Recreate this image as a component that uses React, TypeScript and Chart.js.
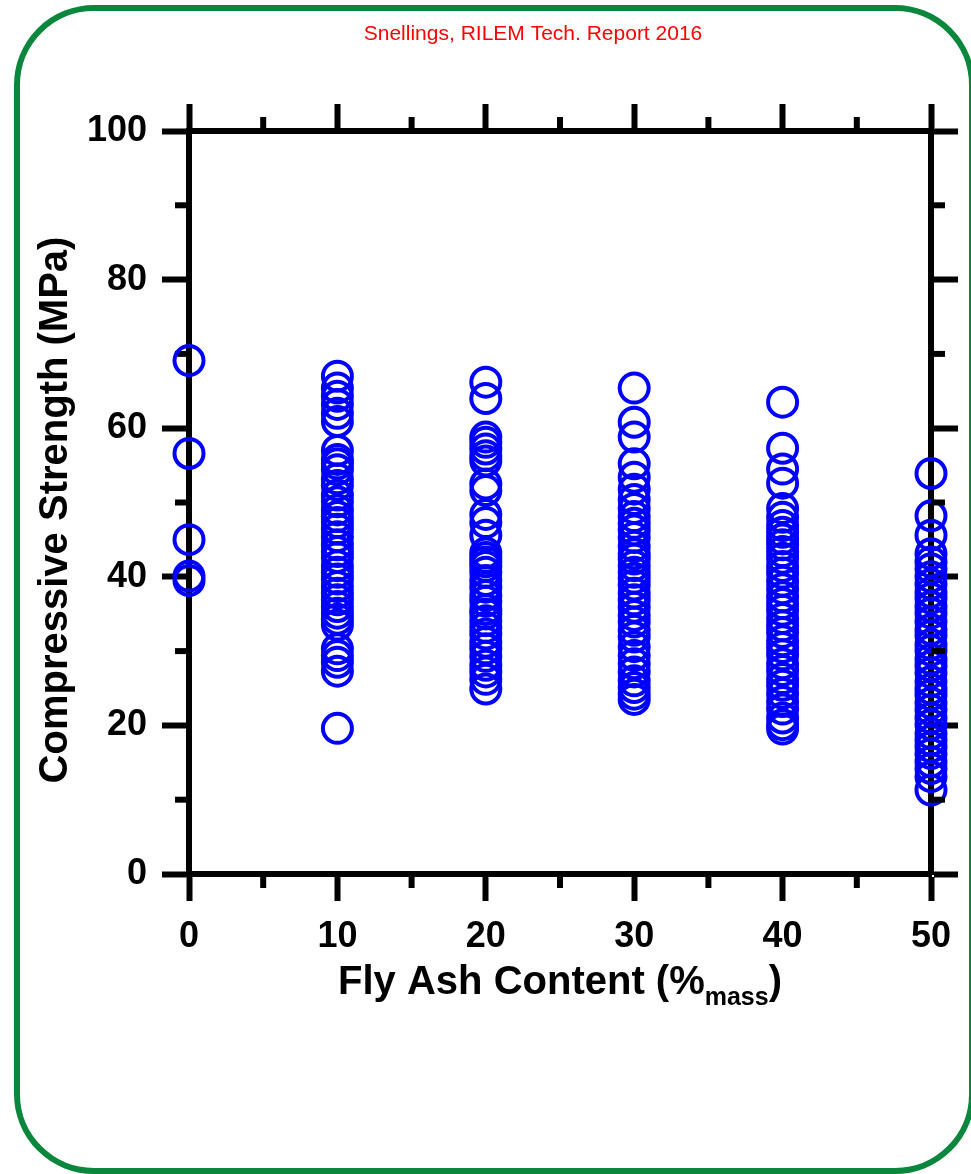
import React, { useEffect, useRef } from 'react';
import { Chart, registerables } from 'chart.js';

Chart.register(...registerables);

// ---- data ----
const flyAshLevels = [0, 10, 20, 30, 40, 50];
const strengthAt0 = [69.1, 56.6, 45.0, 40.1, 39.5];
const strengthAt10 = [67.0, 65.4, 64.3, 63.2, 62.0, 60.9, 57.0, 55.8, 55.2, 54.4, 53.2, 52.3, 51.0, 50.1, 49.0, 48.1, 47.3, 46.4, 45.4, 44.3, 43.4, 42.6, 41.5, 40.6, 39.7, 38.7, 37.8, 36.9, 36.0, 35.1, 34.3, 33.5, 30.3, 29.4, 28.5, 27.3, 19.6];
const strengthAt20 = [66.2, 64.0, 58.8, 58.1, 57.2, 56.3, 55.6, 52.5, 51.6, 48.4, 47.3, 45.6, 43.2, 42.6, 42.0, 41.4, 40.6, 39.5, 38.6, 37.5, 36.7, 35.6, 35.0, 34.1, 33.2, 32.3, 31.2, 30.3, 29.3, 28.1, 27.2, 26.2, 24.9];
const strengthAt30 = [65.4, 60.8, 58.8, 55.2, 53.4, 51.8, 50.4, 49.2, 48.1, 47.2, 46.3, 45.3, 44.1, 43.1, 42.4, 41.5, 40.6, 39.8, 38.9, 37.8, 36.9, 35.9, 34.8, 33.9, 32.8, 31.9, 30.6, 29.4, 28.3, 27.2, 26.0, 25.1, 24.2, 23.5];
const strengthAt40 = [63.5, 57.3, 54.5, 52.6, 49.2, 48.0, 46.9, 46.0, 45.1, 44.3, 43.4, 42.5, 41.4, 40.5, 39.4, 38.4, 37.3, 36.4, 35.5, 34.4, 33.4, 32.5, 31.4, 30.5, 29.5, 28.3, 27.4, 26.3, 25.4, 24.3, 23.2, 22.2, 21.0, 20.1, 19.5];
const strengthAt50 = [53.9, 48.2, 45.6, 43.1, 42.0, 41.1, 40.0, 39.0, 37.9, 37.1, 36.0, 35.1, 34.0, 32.9, 32.1, 30.9, 30.1, 28.9, 28.0, 27.1, 25.9, 24.9, 24.1, 23.0, 22.1, 21.0, 20.1, 18.9, 18.0, 17.1, 16.2, 15.1, 14.2, 13.1, 11.3];
const strengthColumns = [strengthAt0, strengthAt10, strengthAt20, strengthAt30, strengthAt40, strengthAt50];

const xMajorTicks = [0, 10, 20, 30, 40, 50];
const xMinorTicks = [5, 15, 25, 35, 45];
const yMajorTicks = [0, 20, 40, 60, 80, 100];
const yMinorTicks = [10, 30, 50, 70, 90];

const sourceNote = 'Snellings, RILEM Tech. Report 2016';
const xTitleMain = 'Fly Ash Content (%';
const xTitleSub = 'mass';
const xTitleEnd = ')';
const yTitle = 'Compressive Strength (MPa)';

const FONT = "'Liberation Sans', Arial, Helvetica, sans-serif";
const W = 971;
const H = 1174;

export default function App() {
  const canvasRef = useRef<HTMLCanvasElement | null>(null);

  useEffect(() => {
    document.body.style.overflow = 'hidden';
    const canvas = canvasRef.current;
    if (!canvas) return;

    const points: { x: number; y: number }[] = [];
    strengthColumns.forEach((col, i) => {
      col.forEach((v) => points.push({ x: flyAshLevels[i], y: v }));
    });

    const gridOpts = {
      drawOnChartArea: false,
      drawTicks: true,
      tickLength: 27,
      tickWidth: 6,
      tickColor: '#000',
      color: '#000',
    };
    const borderOpts = { display: true, width: 6, color: '#000' };
    const tickFont = { family: FONT, size: 36, weight: 'bold' as const };

    const decorations = {
      id: 'decorations',
      beforeDatasetsDraw(chart: any) {
        const ctx = chart.ctx;
        const xs = chart.scales.x;
        const ys = chart.scales.y;
        const ca = chart.chartArea;
        ctx.save();
        ctx.strokeStyle = '#000';
        ctx.lineWidth = 6;
        ctx.lineCap = 'butt';
        xMinorTicks.forEach((v) => {
          const px = xs.getPixelForValue(v);
          ctx.beginPath();
          ctx.moveTo(px, ca.bottom);
          ctx.lineTo(px, ca.bottom + 14);
          ctx.moveTo(px, ca.top);
          ctx.lineTo(px, ca.top - 14);
          ctx.stroke();
        });
        yMinorTicks.forEach((v) => {
          const py = ys.getPixelForValue(v);
          ctx.beginPath();
          ctx.moveTo(ca.left, py);
          ctx.lineTo(ca.left - 14, py);
          ctx.stroke();
        });
        ctx.restore();
      },
      afterDatasetsDraw(chart: any) {
        const ctx = chart.ctx;
        const ys = chart.scales.y;
        const ca = chart.chartArea;
        ctx.save();
        ctx.strokeStyle = '#000';
        ctx.lineWidth = 6;
        yMinorTicks.forEach((v) => {
          const py = ys.getPixelForValue(v);
          ctx.beginPath();
          ctx.moveTo(ca.right, py);
          ctx.lineTo(ca.right + 14, py);
          ctx.stroke();
        });
        ctx.restore();
      },
      afterDraw(chart: any) {
        const ctx = chart.ctx;
        ctx.save();
        // source note
        ctx.fillStyle = '#ff0000';
        ctx.font = `21px ${FONT}`;
        ctx.textAlign = 'center';
        ctx.textBaseline = 'alphabetic';
        ctx.fillText(sourceNote, 533, 40);

        // x title with subscript
        ctx.fillStyle = '#000';
        ctx.textAlign = 'left';
        const mainFont = `bold 40px ${FONT}`;
        const subFont = `bold 25px ${FONT}`;
        ctx.font = mainFont;
        const w1 = ctx.measureText(xTitleMain).width;
        const w3 = ctx.measureText(xTitleEnd).width;
        ctx.font = subFont;
        const w2 = ctx.measureText(xTitleSub).width;
        const total = w1 + w2 + w3;
        const x0 = 560 - total / 2;
        ctx.font = mainFont;
        ctx.fillText(xTitleMain, x0, 994);
        ctx.font = subFont;
        ctx.fillText(xTitleSub, x0 + w1, 1005);
        ctx.font = mainFont;
        ctx.fillText(xTitleEnd, x0 + w1 + w2, 994);

        // y title
        ctx.translate(67, 510);
        ctx.rotate(-Math.PI / 2);
        ctx.textAlign = 'center';
        ctx.font = mainFont;
        ctx.fillText(yTitle, 0, 0);
        ctx.restore();
      },
    };

    const chart = new Chart(canvas, {
      type: 'scatter',
      data: {
        datasets: [
          {
            data: points,
            pointStyle: 'circle',
            pointRadius: 14.5,
            pointHoverRadius: 14.5,
            borderWidth: 4,
            borderColor: '#0000ff',
            backgroundColor: 'rgba(0,0,0,0)',
            clip: false as any,
          },
        ],
      },
      options: {
        responsive: false,
        animation: false,
        events: [],
        layout: { padding: 0 },
        plugins: {
          legend: { display: false },
          tooltip: { enabled: false },
          title: { display: false },
        },
        scales: {
          x: {
            type: 'linear',
            position: 'bottom',
            min: 0,
            max: 50,
            afterBuildTicks: (s: any) => {
              s.ticks = xMajorTicks.map((v) => ({ value: v }));
            },
            ticks: { font: tickFont, color: '#000', padding: 14, maxRotation: 0, autoSkip: false },
            grid: gridOpts,
            border: borderOpts,
            afterFit: (s: any) => {
              s.height = 300;
            },
          },
          xTop: {
            type: 'linear',
            position: 'top',
            min: 0,
            max: 50,
            afterBuildTicks: (s: any) => {
              s.ticks = xMajorTicks.map((v) => ({ value: v }));
            },
            ticks: { display: false },
            grid: gridOpts,
            border: borderOpts,
            afterFit: (s: any) => {
              s.height = 131;
            },
          },
          y: {
            type: 'linear',
            position: 'left',
            min: 0,
            max: 100,
            afterBuildTicks: (s: any) => {
              s.ticks = yMajorTicks.map((v) => ({ value: v }));
            },
            ticks: { font: tickFont, color: '#000', padding: 15 },
            grid: gridOpts,
            border: borderOpts,
            afterFit: (s: any) => {
              s.width = 189;
            },
          },
          yRight: {
            type: 'linear',
            position: 'right',
            min: 0,
            max: 100,
            z: 1,
            afterBuildTicks: (s: any) => {
              s.ticks = yMajorTicks.map((v) => ({ value: v }));
            },
            ticks: { display: false },
            grid: gridOpts,
            border: borderOpts,
            afterFit: (s: any) => {
              s.width = 40;
            },
          },
        },
      } as any,
      plugins: [decorations],
    });

    return () => {
      chart.destroy();
    };
  }, []);

  return (
    <div style={{ position: 'absolute', left: 0, top: 0, width: W, height: H, background: '#fff', overflow: 'hidden' }}>
      <div
        style={{
          position: 'absolute',
          left: 14,
          top: 5,
          width: 961,
          height: 1169,
          boxSizing: 'border-box',
          border: '6px solid #0a873c',
          borderRadius: 80,
        }}
      />
      <canvas ref={canvasRef} width={W} height={H} style={{ position: 'absolute', left: 0, top: 0, width: W, height: H }} />
    </div>
  );
}
